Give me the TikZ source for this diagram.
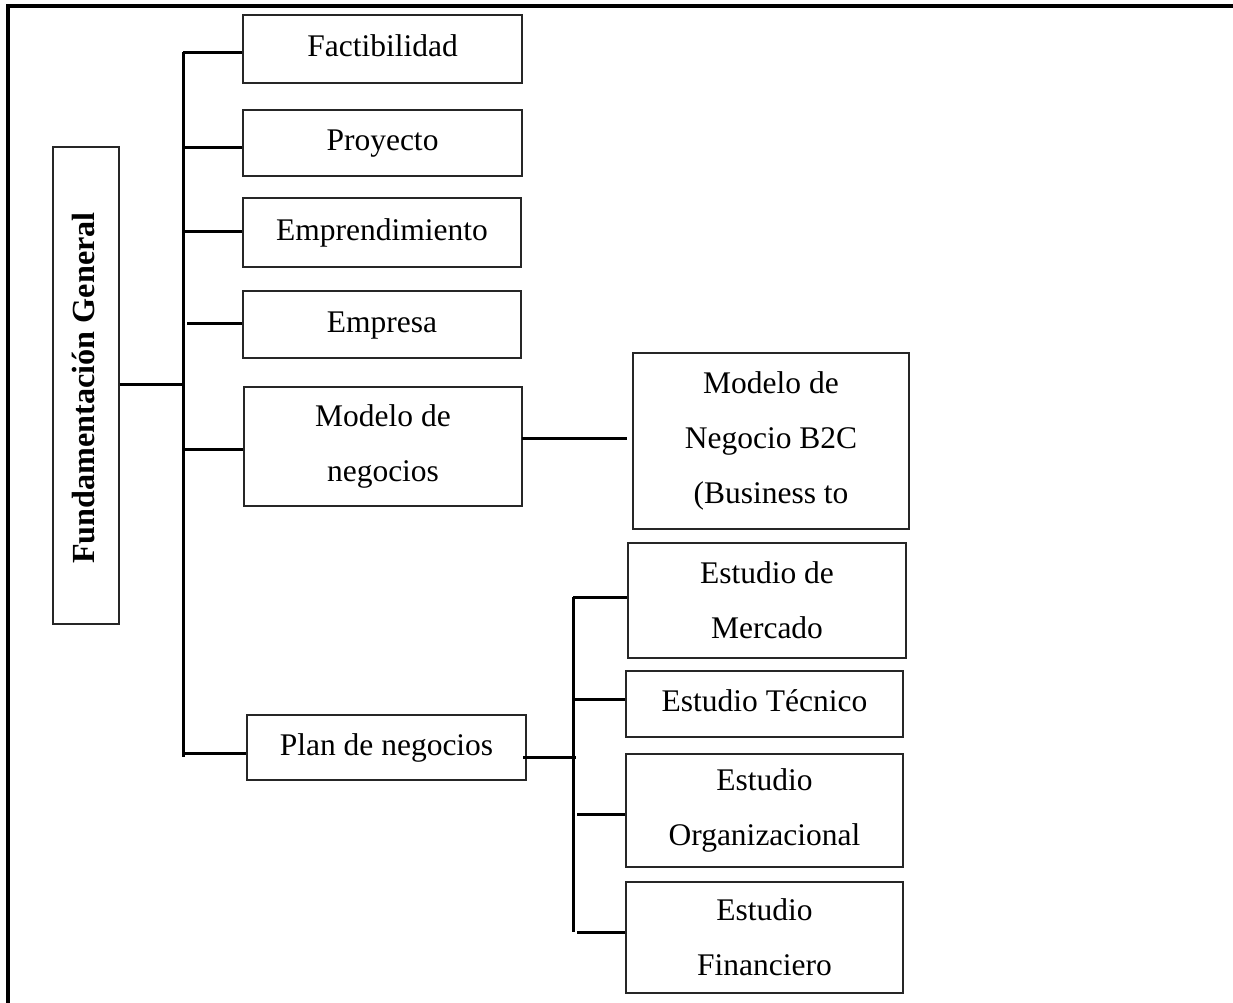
\documentclass[tikz,border=0pt]{standalone}
\usepackage{fontspec}
\setmainfont{Liberation Serif}
\begin{document}
\begin{tikzpicture}[x=1pt,y=-1pt,
  box/.style={draw=black!85,line width=1.3pt,rectangle,inner sep=0pt,font=\fontsize{31.5}{55}\selectfont},
  one/.style={box,text height=22pt,text depth=7pt},
  two/.style={box,align=center},
  conn/.style={line width=3pt,black},
  frame/.style={line width=3.2pt,black}]
\useasboundingbox (0,0) rectangle (1233,1002);
\draw[frame] (8,1003) -- (8,6) -- (1234,6);

\node[box,minimum width=66pt,minimum height=477pt] (fund) at (86,385.5) {};
\node[font=\fontsize{32.2}{36}\selectfont\bfseries,rotate=90] (fundt) at (84,388) {Fundamentación General};

\node[one,minimum width=279pt,minimum height=68pt] (fact) at (382.5,49) {Factibilidad};
\node[one,minimum width=279pt,minimum height=66pt] (proy) at (382.5,143) {Proyecto};
\node[one,minimum width=278pt,minimum height=69pt] (empr) at (382,232.5) {Emprendimiento};
\node[one,minimum width=278pt,minimum height=67pt] (emp) at (382,324.5) {Empresa};
\node[two,minimum width=278pt,minimum height=119pt] (mod) at (383,446.5) {Modelo de\\negocios};
\node[one,minimum width=279pt,minimum height=65pt] (plan) at (386.5,747.5) {Plan de negocios};

\node[two,minimum width=276pt,minimum height=176pt] (b2c) at (771,441) {Modelo de\\Negocio B2C\\(Business to};
\node[two,minimum width=278pt,minimum height=115pt] (merc) at (767,600.5) {Estudio de\\Mercado};
\node[one,minimum width=277pt,minimum height=66pt] (tec) at (764.5,704) {Estudio Técnico};
\node[two,minimum width=277pt,minimum height=113pt] (org) at (764.5,810.5) {Estudio\\Organizacional};
\node[two,minimum width=277pt,minimum height=111pt] (fin) at (764.5,937.5) {Estudio\\Financiero};

% main trunk
\coordinate (ttop) at (183,52);
\coordinate (tbot) at (183,757);
\coordinate (jf) at (183,384);
\coordinate (j1) at (183,52);
\coordinate (j2) at (183,147);
\coordinate (j3) at (183,231);
\coordinate (j4) at (187,323);
\coordinate (j5) at (185,449);
\coordinate (j6) at (185,753);
\draw[conn] (ttop) -- (tbot);
\draw[conn] (jf -| fund.east) -- (jf);
\draw[conn] (j1) -- (j1 -| fact.west);
\draw[conn] (j2) -- (j2 -| proy.west);
\draw[conn] (j3) -- (j3 -| empr.west);
\draw[conn] (j4) -- (j4 -| emp.west);
\draw[conn] (j5) -- (j5 -| mod.west);
\draw[conn] (j6) -- (j6 -| plan.west);

% modelo -> b2c
\coordinate (m1) at (522,438);
\coordinate (m2) at (627,438);
\draw[conn] (m1) -- (m2);

% plan -> sub trunk
\coordinate (p1) at (523,757);
\coordinate (p2) at (576,757);
\draw[conn] (p1) -- (p2);
\coordinate (stop) at (573,597);
\coordinate (sbot) at (573,932);
\draw[conn] (stop) -- (sbot);
\coordinate (s1) at (573,597);
\coordinate (s2) at (573,699);
\coordinate (s3) at (577,814);
\coordinate (s4) at (577,932);
\draw[conn] (s1) -- (s1 -| merc.west);
\draw[conn] (s2) -- (s2 -| tec.west);
\draw[conn] (s3) -- (s3 -| org.west);
\draw[conn] (s4) -- (s4 -| fin.west);
\end{tikzpicture}
\end{document}
